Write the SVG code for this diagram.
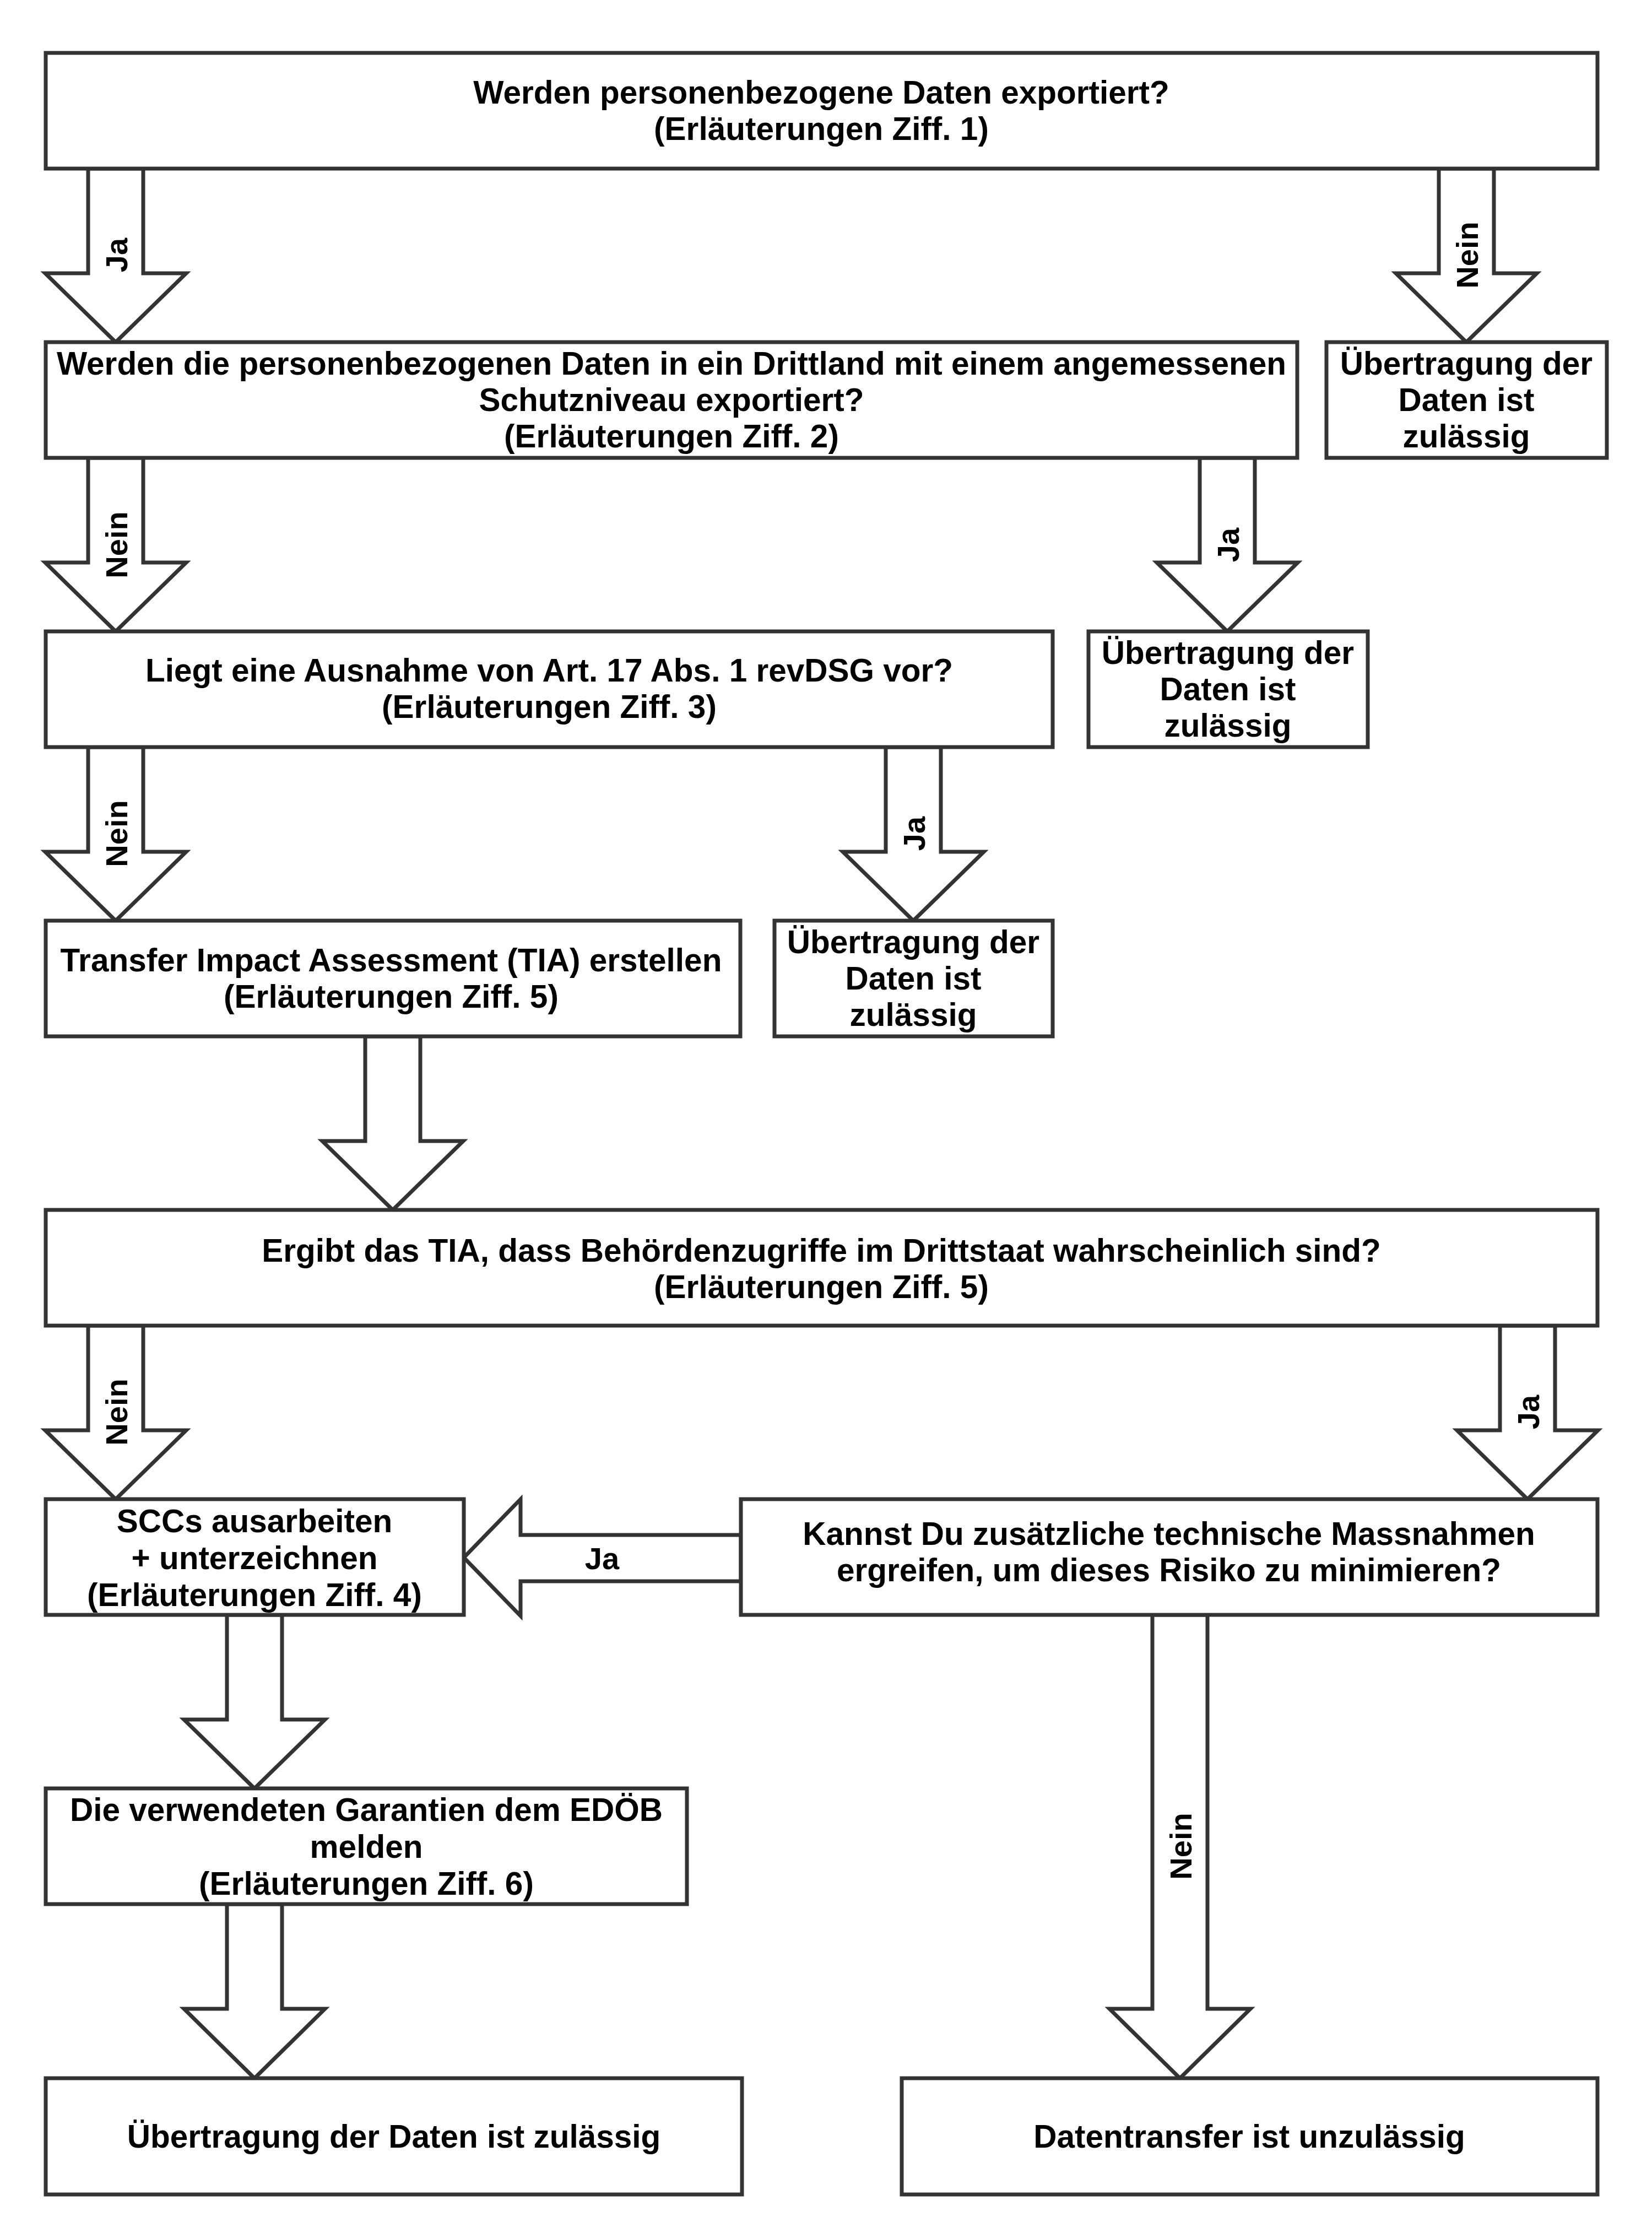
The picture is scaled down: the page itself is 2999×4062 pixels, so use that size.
<svg xmlns="http://www.w3.org/2000/svg" width="2999" height="4062" viewBox="0 0 2999 4062">
<style>
.box{fill:#fff;stroke:#333;stroke-width:7}
.arr{fill:#fff;stroke:#333;stroke-width:7;stroke-linejoin:miter}
.t{font-family:"Liberation Sans",Arial,sans-serif;font-weight:bold;font-size:58.5px;fill:#000;text-anchor:middle}
.l{font-family:"Liberation Sans",Arial,sans-serif;font-weight:bold;font-size:56px;fill:#000;text-anchor:middle}
</style>
<rect width="2999" height="4062" fill="#fff"/>
<g id="connectors">
<polygon class="arr" points="160,306 160,496 82,496 210,621 338,496 260,496 260,306"/>
<polygon class="arr" points="2612,306 2612,496 2534,496 2662,621 2790,496 2712,496 2712,306"/>
<polygon class="arr" points="160,831 160,1021 82,1021 210,1146 338,1021 260,1021 260,831"/>
<polygon class="arr" points="2178,831 2178,1021 2100,1021 2228,1146 2356,1021 2278,1021 2278,831"/>
<polygon class="arr" points="160,1356 160,1546 82,1546 210,1671 338,1546 260,1546 260,1356"/>
<polygon class="arr" points="1608,1356 1608,1546 1530,1546 1658,1671 1786,1546 1708,1546 1708,1356"/>
<polygon class="arr" points="663,1881 663,2071 585,2071 713,2196 841,2071 763,2071 763,1881"/>
<polygon class="arr" points="160,2406 160,2596 82,2596 210,2721 338,2596 260,2596 260,2406"/>
<polygon class="arr" points="2723,2406 2723,2596 2645,2596 2773,2721 2901,2596 2823,2596 2823,2406"/>
<polygon class="arr" points="1345,2786 945,2786 945,2721 842,2827 945,2933 945,2870 1345,2870"/>
<polygon class="arr" points="412,2931 412,3121 334,3121 462,3246 590,3121 512,3121 512,2931"/>
<polygon class="arr" points="412,3456 412,3646 334,3646 462,3772 590,3646 512,3646 512,3456"/>
<polygon class="arr" points="2092,2931 2092,3646 2014,3646 2142,3772 2270,3646 2192,3646 2192,2931"/>
<text class="l" transform="translate(231,463) rotate(-90)">Ja</text>
<text class="l" transform="translate(2683,463) rotate(-90)">Nein</text>
<text class="l" transform="translate(231,989) rotate(-90)">Nein</text>
<text class="l" transform="translate(2249,989) rotate(-90)">Ja</text>
<text class="l" transform="translate(231,1513) rotate(-90)">Nein</text>
<text class="l" transform="translate(1679,1513) rotate(-90)">Ja</text>
<text class="l" transform="translate(231,2563) rotate(-90)">Nein</text>
<text class="l" transform="translate(2794,2563) rotate(-90)">Ja</text>
<text class="l" x="1093" y="2848">Ja</text>
<text class="l" transform="translate(2163,3351) rotate(-90)">Nein</text>
</g>
<g id="n1"><rect class="box" x="83" y="96" width="2817" height="210"/>
<text class="t" x="1491" y="188">Werden personenbezogene Daten exportiert?</text>
<text class="t" x="1491" y="254">(Erläuterungen Ziff. 1)</text></g>
<g id="n2"><rect class="box" x="83" y="621" width="2272" height="210"/>
<text class="t" x="1219" y="680">Werden die personenbezogenen Daten in ein Drittland mit einem angemessenen</text>
<text class="t" x="1219" y="746">Schutzniveau exportiert?</text>
<text class="t" x="1219" y="812">(Erläuterungen Ziff. 2)</text></g>
<g id="n3"><rect class="box" x="2408" y="621" width="509" height="210"/>
<text class="t" x="2662" y="680">Übertragung der</text>
<text class="t" x="2662" y="746">Daten ist</text>
<text class="t" x="2662" y="812">zulässig</text></g>
<g id="n4"><rect class="box" x="83" y="1146" width="1828" height="210"/>
<text class="t" x="997" y="1237">Liegt eine Ausnahme von Art. 17 Abs. 1 revDSG vor?</text>
<text class="t" x="997" y="1303">(Erläuterungen Ziff. 3)</text></g>
<g id="n5"><rect class="box" x="1976" y="1146" width="507" height="210"/>
<text class="t" x="2229" y="1205">Übertragung der</text>
<text class="t" x="2229" y="1271">Daten ist</text>
<text class="t" x="2229" y="1337">zulässig</text></g>
<g id="n6"><rect class="box" x="83" y="1671" width="1261" height="210"/>
<text class="t" x="710" y="1763">Transfer Impact Assessment (TIA) erstellen</text>
<text class="t" x="710" y="1829">(Erläuterungen Ziff. 5)</text></g>
<g id="n7"><rect class="box" x="1406" y="1671" width="505" height="210"/>
<text class="t" x="1658" y="1730">Übertragung der</text>
<text class="t" x="1658" y="1796">Daten ist</text>
<text class="t" x="1658" y="1862">zulässig</text></g>
<g id="n8"><rect class="box" x="83" y="2196" width="2817" height="210"/>
<text class="t" x="1491" y="2290">Ergibt das TIA, dass Behördenzugriffe im Drittstaat wahrscheinlich sind?</text>
<text class="t" x="1491" y="2356">(Erläuterungen Ziff. 5)</text></g>
<g id="n9"><rect class="box" x="83" y="2721" width="759" height="210"/>
<text class="t" x="462" y="2781">SCCs ausarbeiten</text>
<text class="t" x="462" y="2848">+ unterzeichnen</text>
<text class="t" x="462" y="2915">(Erläuterungen Ziff. 4)</text></g>
<g id="n10"><rect class="box" x="1345" y="2721" width="1555" height="210"/>
<text class="t" x="2122" y="2804">Kannst Du zusätzliche technische Massnahmen</text>
<text class="t" x="2122" y="2870">ergreifen, um dieses Risiko zu minimieren?</text></g>
<g id="n11"><rect class="box" x="83" y="3246" width="1164" height="210"/>
<text class="t" x="665" y="3305">Die verwendeten Garantien dem EDÖB</text>
<text class="t" x="665" y="3372">melden</text>
<text class="t" x="665" y="3439">(Erläuterungen Ziff. 6)</text></g>
<g id="n12"><rect class="box" x="83" y="3772" width="1264" height="211"/>
<text class="t" x="715" y="3898">Übertragung der Daten ist zulässig</text></g>
<g id="n13"><rect class="box" x="1637" y="3772" width="1263" height="211"/>
<text class="t" x="2268" y="3898">Datentransfer ist unzulässig</text></g>
</svg>
